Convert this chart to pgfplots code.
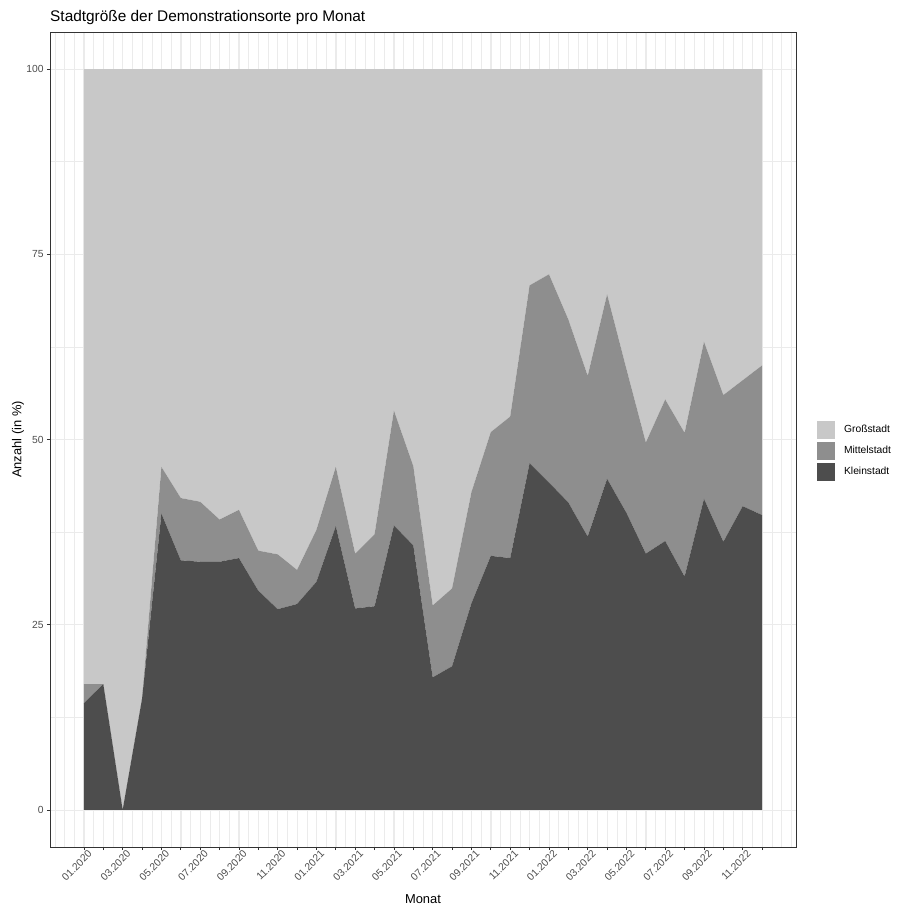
\documentclass[border=0pt]{standalone}
\usepackage{fontspec}
\setmainfont{Liberation Sans}
\usepackage{pgfplots}
\usepackage{pgfplotstable}
\pgfplotsset{compat=1.18}
\definecolor{kl}{HTML}{4D4D4D}
\definecolor{mi}{HTML}{8E8E8E}
\definecolor{gr}{HTML}{C8C8C8}
\definecolor{grid}{HTML}{EBEBEB}
\definecolor{grey20}{HTML}{333333}
\definecolor{grey30}{HTML}{4D4D4D}
% month index, Kleinstadt, Mittelstadt, Grossstadt (shares in %)
\pgfplotstableread{
m  klein mittel gross
0  14.4  2.6  83.0
1  17.0  0.0  83.0
2  0.0   0.0  100.0
3  15.0  0.0  85.0
4  40.0  6.3  53.7
5  33.7  8.4  57.9
6  33.5  8.1  58.4
7  33.5  5.7  60.8
8  34.0  6.5  59.5
9  29.6  5.4  65.0
10 27.1  7.4  65.5
11 27.8  4.6  67.6
12 30.8  7.0  62.2
13 38.3  8.0  53.7
14 27.2  7.4  65.4
15 27.5  9.7  62.8
16 38.4  15.5 46.1
17 35.7  10.7 53.6
18 17.9  9.7  72.4
19 19.4  10.5 70.1
20 27.9  15.0 57.1
21 34.3  16.7 49.0
22 34.0  19.1 46.9
23 46.8  24.0 29.2
24 44.2  28.1 27.7
25 41.5  24.7 33.8
26 36.9  21.7 41.4
27 44.7  24.9 30.4
28 40.1  19.4 40.5
29 34.6  15.0 50.4
30 36.3  19.1 44.6
31 31.5  19.4 49.1
32 42.0  21.2 36.8
33 36.2  19.8 44.0
34 41.0  17.0 42.0
35 39.8  20.2 40.0
}\datatable
\begin{document}
\begin{tikzpicture}
\path[use as bounding box] (0,0) rectangle (897bp,-907bp);
\begin{axis}[
  at={(50bp,-847bp)}, anchor=south west,
  scale only axis, width=746bp, height=815bp,
  xmin=-1.75, xmax=36.75, ymin=-5, ymax=105,
  stack plots=y,
  xtick={0,...,35},
  xticklabels={01.2020,{},03.2020,{},05.2020,{},07.2020,{},09.2020,{},11.2020,{},01.2021,{},03.2021,{},05.2021,{},07.2021,{},09.2021,{},11.2021,{},01.2022,{},03.2022,{},05.2022,{},07.2022,{},09.2022,{},11.2022,{}},
  minor xtick={-1.5,-1,...,36.5},
  ytick={0,25,50,75,100},
  minor ytick={12.5,37.5,62.5,87.5},
  grid=both,
  major grid style={draw=grid, line width=0.9bp},
  minor grid style={draw=grid, line width=0.45bp},
  tick align=outside,
  xtick pos=bottom, ytick pos=left,
  major tick length=3.2bp, minor tick length=0pt,
  tick style={draw=grey20, line width=0.8bp},
  axis line style={draw=grey20, line width=0.8bp},
  /pgf/number format/assume math mode=true,
  ticklabel style={font=\fontsize{10.3bp}{12bp}\selectfont, text=grey30},
  xticklabel style={rotate=45, anchor=north east, inner sep=0pt, xshift=3bp, yshift=-2bp},
  yticklabel style={inner sep=0pt, xshift=-3bp},
  title={Stadtgröße der Demonstrationsorte pro Monat},
  title style={at={(axis description cs:0,1)}, anchor=base west, inner sep=0pt, yshift=5bp, font=\fontsize{15.4bp}{18bp}\selectfont},
  xlabel={Monat},
  xlabel style={at={(axis description cs:0.5,-0.0638)}, anchor=center, inner sep=0pt, font=\fontsize{12.9bp}{15bp}\selectfont},
  ylabel={Anzahl (in \%)},
  ylabel style={at={(axis description cs:-0.0429,0.5)}, anchor=center, inner sep=0pt, font=\fontsize{12.9bp}{15bp}\selectfont},
  legend style={at={(axis description cs:1.028,0.486)}, anchor=west, draw=none, fill=none, inner sep=0pt,
    font=\fontsize{10.3bp}{12bp}\selectfont, row sep=3bp,
    nodes={inner sep=0pt},
    /tikz/every odd column/.append style={column sep=9bp}},
  legend cell align=left,
  reverse legend,
]
\addplot[fill=kl, draw=none, legend image code/.code={\fill[kl] (0bp,-9bp) rectangle (18bp,9bp);}] table[x=m, y=klein] {\datatable} \closedcycle;
\addlegendentry{Kleinstadt}
\addplot[fill=mi, draw=none, legend image code/.code={\fill[mi] (0bp,-9bp) rectangle (18bp,9bp);}] table[x=m, y=mittel] {\datatable} \closedcycle;
\addlegendentry{Mittelstadt}
\addplot[fill=gr, draw=none, legend image code/.code={\fill[gr] (0bp,-9bp) rectangle (18bp,9bp);}] table[x=m, y=gross] {\datatable} \closedcycle;
\addlegendentry{Großstadt}
\end{axis}
\end{tikzpicture}
\end{document}
